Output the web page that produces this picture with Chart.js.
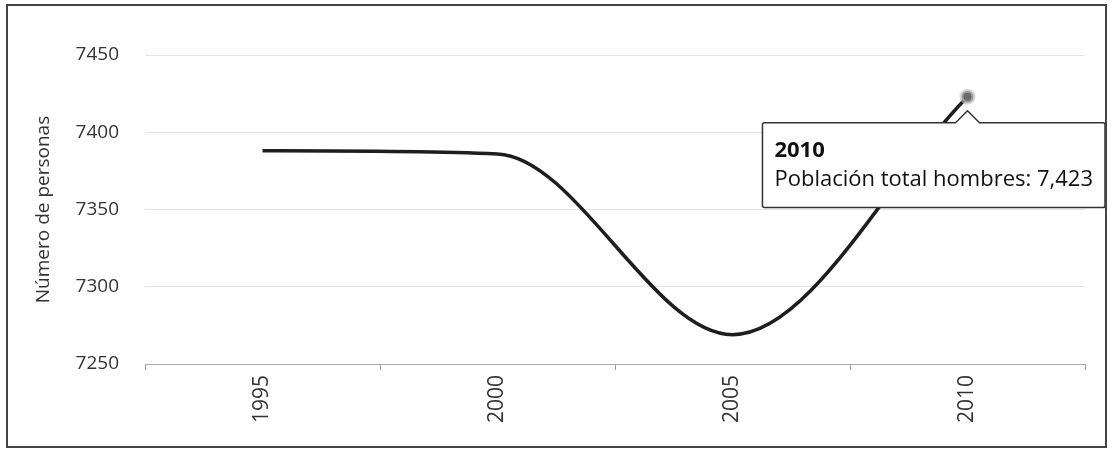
<!DOCTYPE html>
<html>
<head>
<meta charset="utf-8">
<script src="https://cdn.jsdelivr.net/npm/chart.js@4/dist/chart.umd.min.js"></script>
<style>
  body { margin: 0; background: #fff; }
  #marco {
    position: absolute; left: 6px; top: 4px;
    width: 1097px; height: 440px;
    border: 2px solid #444;
  }
  #marco canvas { display: block; }
</style>
</head>
<body>
<div id="marco"><canvas id="grafico" width="1097" height="440"></canvas></div>
<script>
// Datos
const anios = ["1995", "2000", "2005", "2010"];
const hombres = [7388, 7386, 7269, 7423];
const ticksY = [7250, 7300, 7350, 7400, 7450];
const nombreSerie = "Población total hombres";
const tituloY = "Número de personas";

const fuente = "'Open Sans', 'DejaVu Sans', sans-serif";

const ctx = document.getElementById("grafico").getContext("2d");

const chart = new Chart(ctx, {
  type: "line",
  data: {
    labels: anios,
    datasets: [
      {
        label: nombreSerie,
        data: hombres,
        borderColor: "#1e1e1e",
        borderWidth: 3.5,
        cubicInterpolationMode: "monotone",
        pointRadius: [0, 0, 0, 6],
        pointHoverRadius: [0, 0, 0, 6],
        pointBackgroundColor: "#6a6a6a",
        pointBorderColor: "rgba(190,190,190,0.6)",
        pointBorderWidth: 4,
        pointHoverBorderWidth: 4,
        fill: false,
      },
    ],
  },
  options: {
    responsive: false,
    animation: false,
    events: [],
    layout: { padding: { left: 0, right: 20, top: 49, bottom: 0 } },
    scales: {
      x: {
        offset: true,
        border: { display: false },
        grid: {
          offset: true,
          drawOnChartArea: false,
          drawTicks: true,
          tickLength: 6,
          color: "#999",
        },
        ticks: {
          maxRotation: 90,
          minRotation: 90,
          padding: 5,
          color: "#333",
          font: { family: fuente, size: 21 },
        },
        afterFit: function (scale) {
          scale.height = 82;
        },
      },
      y: {
        min: ticksY[0],
        max: ticksY[ticksY.length - 1],
        border: { display: false },
        afterBuildTicks: function (scale) {
          scale.ticks = ticksY.map((v) => ({ value: v }));
        },
        grid: {
          drawTicks: false,
          color: function (c) {
            return c.tick && c.tick.value === ticksY[0] ? "#aaa" : "#e4e4e4";
          },
        },
        ticks: {
          padding: 26,
          color: "#333",
          font: { family: fuente, size: 19 },
          callback: (v) => String(v),
        },
        title: {
          display: true,
          text: tituloY,
          color: "#333",
          padding: { top: 24, bottom: 0 },
          font: { family: fuente, size: 19 },
        },
        afterFit: function (scale) {
          scale.width = 137;
        },
      },
    },
    plugins: {
      legend: { display: false },
      tooltip: {
        enabled: true,
        backgroundColor: "#fff",
        borderColor: "#333",
        borderWidth: 1.5,
        titleColor: "#111",
        bodyColor: "#111",
        titleFont: { family: fuente, size: 22, weight: "bold" },
        bodyFont: { family: fuente, size: 22 },
        titleMarginBottom: 2,
        padding: { left: 12, right: 12, top: 15, bottom: 15 },
        displayColors: false,
        caretSize: 12,
        caretPadding: 14,
        cornerRadius: 2,
        yAlign: "top",
        xAlign: "center",
        callbacks: {
          title: (items) => items[0].label,
          label: (item) =>
            item.dataset.label + ": " + item.parsed.y.toLocaleString("en-US"),
        },
      },
    },
  },
});

// Mostrar el tooltip fijo sobre el último punto (2010)
const ultimo = hombres.length - 1;
const punto = chart.getDatasetMeta(0).data[ultimo];
chart.tooltip.setActiveElements([{ datasetIndex: 0, index: ultimo }], {
  x: punto.x,
  y: punto.y,
});
chart.update();
</script>
</body>
</html>
